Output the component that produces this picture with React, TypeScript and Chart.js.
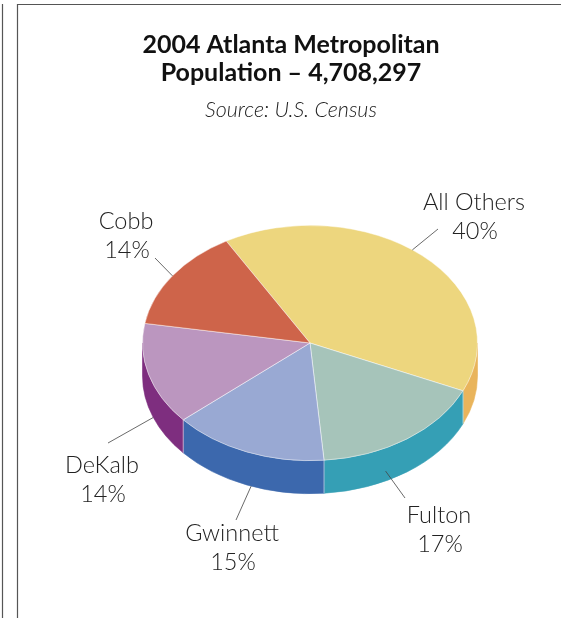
import React, { useEffect, useRef } from 'react';
import { Chart, registerables } from 'chart.js';

Chart.register(...registerables);

// ---------- data ----------
const TITLE_LINES = ['2004 Atlanta Metropolitan', 'Population – 4,708,297'];
const SUBTITLE = 'Source: U.S. Census';
const CATEGORIES = ['All Others', 'Fulton', 'Gwinnett', 'DeKalb', 'Cobb'];
const SHARES = [40, 17, 15, 14, 14];
const PERCENT_LABELS = ['40%', '17%', '15%', '14%', '14%'];

// ---------- styles ----------
const TOP_COLORS = ['#EDD67E', '#A6C4BA', '#99A9D3', '#BB96BF', '#CE644A'];
const SIDE_COLORS = ['#E9B45B', '#359FB5', '#3C68AD', '#7E2E7F', '#9E3E2A'];
const TILT = 118 / 168;
const DEPTH = 33;
const ROTATION = -30;
// label centres (line 1), leader outer end, where on slice the leader starts (fraction along arc, depth fraction)
const LABEL_LAYOUT = [
  { x: 474, y: 202, lx: 438, ly: 229, frac: 0.47, d: 0 },
  { x: 439, y: 515, lx: 405, ly: 498, frac: 0.64, d: 0.7 },
  { x: 232, y: 533, lx: 236, ly: 520, frac: 0.47, d: 1 },
  { x: 102, y: 465, lx: 108, ly: 443, frac: 0.4, d: 1 },
  { x: 126, y: 221, lx: 155, ly: 258, frac: 0.5, d: 0 },
];
const LINE_GAP = 29;
const LABEL_FONT = '300 23.5px Lato';

const pie3d = {
  id: 'pie3d',
  beforeDraw(chart: any) {
    const ctx = chart.ctx;
    ctx.save();
    ctx.strokeStyle = '#555';
    ctx.lineWidth = 1.2;
    ctx.beginPath();
    ctx.moveTo(2.5, 4);
    ctx.lineTo(2.5, 618);
    ctx.moveTo(17.5, 618);
    ctx.lineTo(17.5, 4.5);
    ctx.lineTo(561, 4.5);
    ctx.stroke();
    ctx.restore();
  },
  beforeDatasetsDraw(chart: any) {
    const ctx = chart.ctx;
    const meta = chart.getDatasetMeta(0);
    const p0 = meta.data[0].getProps(['x', 'y', 'outerRadius'], true);
    const cx = p0.x, cy = p0.y, rx = p0.outerRadius, ry = rx * TILT;
    const boundaries: number[] = [];
    meta.data.forEach((arc: any, i: number) => {
      const { startAngle, endAngle } = arc.getProps(['startAngle', 'endAngle'], true);
      for (const k of [-2, 0, 2]) {
        const lo = Math.max(startAngle, k * Math.PI);
        const hi = Math.min(endAngle, k * Math.PI + Math.PI);
        if (hi > lo) {
          ctx.save();
          ctx.fillStyle = SIDE_COLORS[i];
          ctx.beginPath();
          ctx.ellipse(cx, cy, rx, ry, 0, lo, hi, false);
          ctx.ellipse(cx, cy + DEPTH, rx, ry, 0, hi, lo, true);
          ctx.closePath();
          ctx.fill();
          ctx.strokeStyle = SIDE_COLORS[i];
          ctx.lineWidth = 0.6;
          ctx.stroke();
          ctx.restore();
          if (lo > k * Math.PI + 0.001) boundaries.push(lo);
        }
      }
    });
    ctx.save();
    ctx.strokeStyle = 'rgba(255,255,255,0.55)';
    ctx.lineWidth = 1;
    boundaries.forEach((a) => {
      const x = cx + rx * Math.cos(a);
      const y = cy + ry * Math.sin(a);
      ctx.beginPath();
      ctx.moveTo(x, y);
      ctx.lineTo(x, y + DEPTH);
      ctx.stroke();
    });
    ctx.restore();
    ctx.save();
    ctx.translate(cx, cy);
    ctx.scale(1, TILT);
    ctx.translate(-cx, -cy);
  },
  afterDatasetsDraw(chart: any) {
    chart.ctx.restore();
  },
  afterDraw(chart: any) {
    const ctx = chart.ctx;
    const meta = chart.getDatasetMeta(0);
    const p0 = meta.data[0].getProps(['x', 'y', 'outerRadius'], true);
    const cx = p0.x, cy = p0.y, rx = p0.outerRadius, ry = rx * TILT;
    ctx.save();
    ctx.textAlign = 'center';
    ctx.textBaseline = 'middle';
    ctx.fillStyle = '#111';
    ctx.font = 'bold 25px Lato';
    ctx.fillText(TITLE_LINES[0], 291, 45);
    ctx.fillText(TITLE_LINES[1], 291, 73);
    ctx.fillStyle = '#222';
    ctx.font = 'italic 300 21.5px Lato';
    ctx.fillText(SUBTITLE, 291, 110);

    meta.data.forEach((arc: any, i: number) => {
      const L = LABEL_LAYOUT[i];
      const { startAngle, endAngle } = arc.getProps(['startAngle', 'endAngle'], true);
      const a = startAngle + (endAngle - startAngle) * L.frac;
      const px = cx + rx * Math.cos(a);
      const py = cy + ry * Math.sin(a) + DEPTH * L.d;
      ctx.strokeStyle = '#444';
      ctx.lineWidth = 0.8;
      ctx.beginPath();
      ctx.moveTo(px, py);
      ctx.lineTo(L.lx, L.ly);
      ctx.stroke();
      ctx.fillStyle = '#222';
      ctx.font = LABEL_FONT;
      ctx.fillText(CATEGORIES[i], L.x, L.y);
      ctx.fillText(PERCENT_LABELS[i], L.x + 1, L.y + LINE_GAP);
    });
    ctx.restore();
  },
};

export default function App() {
  const ref = useRef<HTMLCanvasElement | null>(null);
  useEffect(() => {
    if (!ref.current) return;
    const chart = new Chart(ref.current, {
      type: 'pie',
      data: {
        labels: CATEGORIES,
        datasets: [
          {
            data: SHARES,
            backgroundColor: TOP_COLORS,
            borderColor: 'rgba(255,255,255,0.55)',
            borderWidth: 1,
            hoverOffset: 0,
          },
        ],
      },
      options: {
        animation: false,
        responsive: false,
        devicePixelRatio: 1,
        rotation: ROTATION,
        layout: { padding: { left: 142, right: 83, top: 175, bottom: 107 } },
        plugins: {
          legend: { display: false },
          tooltip: { enabled: false },
          title: { display: false },
        },
        events: [],
      },
      plugins: [pie3d],
    } as any);
    return () => chart.destroy();
  }, []);
  return (
    <div style={{ position: 'absolute', left: 0, top: 0, width: 561, height: 618, background: '#fff' }}>
      <canvas ref={ref} width={561} height={618} style={{ width: 561, height: 618, display: 'block' }} />
    </div>
  );
}
